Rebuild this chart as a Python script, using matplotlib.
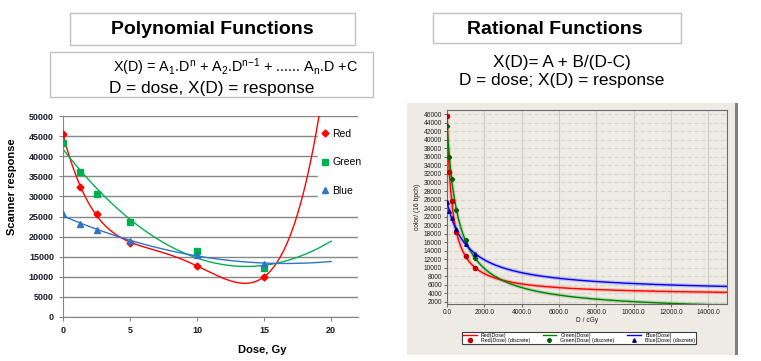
import numpy as np
import matplotlib.pyplot as plt
from matplotlib.patches import Rectangle

plt.rcParams['font.family'] = ['Liberation Sans', 'DejaVu Sans']
plt.rcParams['mathtext.fontset'] = 'custom'
plt.rcParams['mathtext.rm'] = 'Liberation Sans'
plt.rcParams['mathtext.default'] = 'rm'

# measured points (dose in Gy / cGy, scanner response)
dose_gy = np.array([0, 1.25, 2.5, 5, 10, 15])
dose_cgy = dose_gy * 100
red = np.array([45500, 32400, 25700, 18500, 12700, 10000])
green = np.array([43300, 36000, 30700, 23600, 16400, 12200])
blue = np.array([25500, 23200, 21600, 19000, 15500, 13300])
poly_order = {'Red': 4, 'Green': 2, 'Blue': 2}

W, H = 761, 361
fig = plt.figure(figsize=(W / 100, H / 100), dpi=100)

def fx(px):
    return px / W

def fy(py):
    return 1 - py / H

def box(x0, y0, x1, y1, **kw):
    fig.patches.append(Rectangle((fx(x0), fy(y1)), fx(x1) - fx(x0), fy(y0) - fy(y1),
                                 transform=fig.transFigure, zorder=-5, **kw))

# ---- headers
box(70, 13, 355, 45, fc='white', ec='#bfbfbf', lw=1)
fig.text(fx(212), fy(30), 'Polynomial Functions', ha='center', va='center',
         fontsize=14, fontweight='bold')
box(50, 52, 373, 97, fc='white', ec='#bfbfbf', lw=1)
fig.text(fx(235), fy(67), r'X(D) = A$_1$.D$^n$ + A$_2$.D$^{n{-}1}$ + ...... A$_n$.D +C',
         ha='center', va='center', fontsize=10.4)
fig.text(fx(212), fy(88), 'D = dose, X(D) = response', ha='center', va='center', fontsize=12.4)

box(433, 13, 681, 43, fc='white', ec='#bfbfbf', lw=1)
fig.text(fx(555), fy(29), 'Rational Functions', ha='center', va='center',
         fontsize=14, fontweight='bold')
fig.text(fx(562), fy(62), 'X(D)= A + B/(D-C)', ha='center', va='center', fontsize=12.4)
fig.text(fx(562), fy(81), 'D = dose; X(D) = response', ha='center', va='center', fontsize=12.4)

# ---- left chart (Excel-like polynomial trendlines)
ax1 = fig.add_axes([fx(63), fy(317), fx(358) - fx(63), fy(116) - fy(317)])
cols = {'Red': '#ff0000', 'Green': '#00b050', 'Blue': '#2e75c6'}
marks = {'Red': 'D', 'Green': 's', 'Blue': '^'}
msize = {'Red': 3.5, 'Green': 4.8, 'Blue': 4.3}
xs = np.linspace(0, 20, 400)
for name, vals in [('Red', red), ('Green', green), ('Blue', blue)]:
    coefs = np.polyfit(dose_gy, vals, poly_order[name])
    ax1.plot(xs, np.polyval(coefs, xs), color=cols[name], lw=1, zorder=2)
    ax1.plot(dose_gy, vals, ls='none', marker=marks[name], color=cols[name],
             ms=msize[name], label=name, zorder=3)
ax1.set_xlim(0, 22)
ax1.set_ylim(0, 50000)
ax1.set_xticks([0, 5, 10, 15, 20])
ax1.set_yticks(np.arange(0, 50001, 5000))
ax1.grid(axis='y', color='#868686', lw=1)
ax1.set_axisbelow(True)
for s in ['top', 'right']:
    ax1.spines[s].set_visible(False)
for s in ['left', 'bottom']:
    ax1.spines[s].set_color('#868686')
ax1.tick_params(colors='#868686', labelcolor='#1a1a2a', labelsize=6.5, length=3)
for lab in ax1.get_xticklabels() + ax1.get_yticklabels():
    lab.set_fontweight('bold')
ax1.set_xlabel('Dose, Gy', fontsize=8, fontweight='bold')
ax1.set_ylabel('Scanner response', fontsize=8, fontweight='bold')
ax1.xaxis.set_label_coords(0.675, -0.14)
ax1.yaxis.set_label_coords(-0.155, 0.647)
leg = ax1.legend(loc='upper left', bbox_to_anchor=(fx(318), fy(126)),
                 bbox_transform=fig.transFigure, frameon=True, fontsize=7.5,
                 handlelength=0.8, handletextpad=0.3, labelspacing=1.75,
                 borderpad=0.3, borderaxespad=0)
leg.get_frame().set_edgecolor('white')
leg.get_frame().set_alpha(1)

# ---- right chart (screenshot of rational fit)
box(407, 103, 735, 355, fc='#eeebe4', ec='none')
box(735, 103, 738, 355, fc='#808080', ec='none')
ax2 = fig.add_axes([fx(447), fy(304), fx(727) - fx(447), fy(110) - fy(304)])
ax2.set_facecolor('#eeebe4')


def rational_fit(d, y):
    best = None
    for c in np.linspace(-3000, -1, 3000):
        M = np.column_stack([np.ones_like(d), 1 / (d - c)])
        coef = np.linalg.lstsq(M, y, rcond=None)[0]
        err = np.sum((M @ coef - y) ** 2)
        if best is None or err < best[0]:
            best = (err, coef[0], coef[1], c)
    return best[1:]


dd = np.linspace(0, 15000, 1500)
rcols = {'Red': '#ff0000', 'Green': '#008000', 'Blue': '#0000ff'}
mcols = {'Red': '#c00000', 'Green': '#006000', 'Blue': '#000080'}
rmarks = {'Red': 'o', 'Green': 'P', 'Blue': '^'}
rms = {'Red': 3, 'Green': 2.8, 'Blue': 2.5}
handles = []
for name, vals in [('Red', red), ('Green', green), ('Blue', blue)]:
    A, B, C = rational_fit(dose_cgy, vals)
    yy = A + B / (dd - C)
    ax2.plot(dd, yy, color=rcols[name], lw=2.8, alpha=0.18, zorder=2)
    l, = ax2.plot(dd, yy, color=rcols[name], lw=1.0, zorder=3, label=name + '(Dose)')
    m, = ax2.plot(dose_cgy, vals, ls='none', marker=rmarks[name], color=mcols[name],
                  ms=rms[name], zorder=4, label=name + '(Dose) (discrete)')
    handles += [l, m]
ax2.set_xlim(0, 15000)
ax2.set_ylim(1500, 47000)
ax2.set_xticks(np.arange(0, 14001, 2000))
ax2.set_xticklabels(['%.1f' % v for v in np.arange(0, 14001, 2000)])
ax2.set_yticks(np.arange(2000, 46001, 2000))
ax2.grid(axis='x', color='#cfccc4', lw=0.8)
ax2.grid(axis='y', color='#d8d5cd', lw=0.8, ls=(0, (4, 2)))
ax2.set_axisbelow(True)
for s in ax2.spines.values():
    s.set_color('#6a6a6a')
ax2.tick_params(labelsize=4.8, colors='#707070', labelcolor='#222222', length=2, pad=1.5)
ax2.set_xlabel('D / cGy', fontsize=4.8, color='#222222', labelpad=1)
ax2.set_ylabel('color/ (16 bpch)', fontsize=4.8, color='#222222', labelpad=2)
leg2 = ax2.legend(handles=handles, loc='lower left', ncol=3, mode='expand',
                  bbox_to_anchor=(fx(462), fy(344), fx(696) - fx(462), fy(331) - fy(344)),
                  bbox_transform=fig.transFigure,
                  fontsize=3.8, handlelength=2.6, labelspacing=0.05, borderpad=0.15,
                  columnspacing=0.5, handletextpad=0.8, borderaxespad=0,
                  fancybox=False, framealpha=1)
leg2.get_frame().set_edgecolor('#404040')
leg2.get_frame().set_linewidth(0.8)

fig.savefig('out.png', dpi=100)
